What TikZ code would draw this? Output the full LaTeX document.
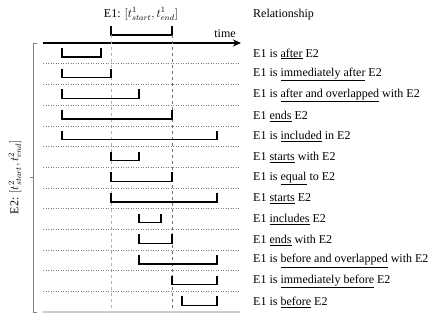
\documentclass[tikz,border=0pt]{standalone}
\usepackage{fontspec}
\setmainfont{Liberation Serif}
\usepackage{tikz}
\usetikzlibrary{arrows.meta,positioning}

\begin{document}
\begin{tikzpicture}[x=1pt, y=-1pt, font=\fontsize{12}{14}\selectfont,
    bracket/.style={line width=1.3pt, black},
    sep/.style={gray, dotted, line width=0.5pt}]
        \useasboundingbox (0,0) rectangle (436,317);
        % time axis
        \draw[line width=1.8pt, -{Stealth[length=8pt, width=7pt]}] (43,43) -- (241,43);
        \node (timelbl) at (225,34) {time};
        % E1 interval on top
        \node (e1) at (141,14) {E1: $[t^1_{start}, t^1_{end}]$};
        \draw[bracket] (111,26) -- (111,35) -- (172,35) -- (172,26);
        \draw[gray!60, dashed] (111,35) -- (111,312);
        \draw[gray!90!black, dashed] (172,35) -- (172,312);
        \node[anchor=west, inner sep=0pt] (head) at (253,15) {Relationship};
        % row separators
        \foreach \i in {1,...,12}
            \draw[sep] (43,{43+\i*20.7}) -- (240,{43+\i*20.7});
        \draw[gray!40, line width=1.5pt] (43,312) -- (240,312);
        % E2 interval on the left
        \draw[gray] (37,43) -- (33,43) -- (33,312) -- (37,312);
        \draw[gray] (33,177) -- (30,177);
        \node[rotate=90] (e2) at (15,177) {E2: $[t^2_{start}, t^2_{end}]$};
        % one row per relationship
        \foreach \i/\a/\b/\txt in {
            1/62/101/{E1 is \underline{after} E2},
            2/62/111/{E1 is \underline{immediately after} E2},
            3/62/139/{E1 is \underline{after and overlapped} with E2},
            4/62/172/{E1 \underline{ends} E2},
            5/62/217/{E1 is \underline{included} in E2},
            6/111/139/{E1 \underline{starts} with E2},
            7/111/172/{E1 is \underline{equal} to E2},
            8/111/217/{E1 \underline{starts} E2},
            9/139/161/{E1 \underline{includes} E2},
            10/139/172/{E1 \underline{ends} with E2},
            11/139/217/{E1 is \underline{before and overlapped} with E2},
            12/172/217/{E1 is \underline{immediately before} E2},
            13/182/217/{E1 is \underline{before} E2}} {
            \pgfmathsetmacro\yt{43+(\i-1)*20.7}
            \draw[bracket] (\a,\yt+5) -- (\a,\yt+14) -- (\b,\yt+14) -- (\b,\yt+5);
            \node[anchor=west, inner sep=0pt] (rel\i) at (253,\yt+11) {\txt};
        }
    \end{tikzpicture}
\end{document}
